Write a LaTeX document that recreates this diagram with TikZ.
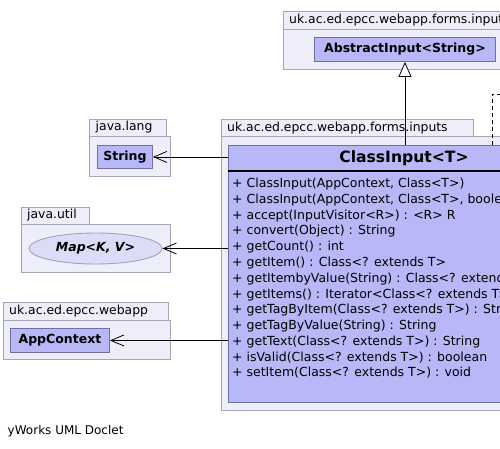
\documentclass[tikz,border=0pt]{standalone}
\usepackage{fontspec}
\setmainfont{DejaVu Sans}
\usetikzlibrary{arrows.meta,shapes.geometric}
\definecolor{pkgfill}{RGB}{238,238,250}
\definecolor{pkgdraw}{RGB}{166,166,184}
\definecolor{clsfill}{RGB}{184,184,248}
\definecolor{clsdraw}{RGB}{112,112,160}
\definecolor{elfill}{RGB}{220,220,248}
\definecolor{eldraw}{RGB}{160,160,192}
\tikzset{
  pkgbox/.style={draw=pkgdraw,fill=pkgfill,line width=0.9pt,inner sep=0pt,anchor=north west},
  pkglabel/.style={inner sep=0pt,anchor=west,font=\fontsize{12.4}{14}\selectfont},
  clsbox/.style={draw=clsdraw,fill=clsfill,line width=0.9pt,inner sep=0pt},
  clsname/.style={inner sep=0pt,font=\fontsize{12.5}{14}\selectfont\bfseries},
  meth/.style={inner sep=0pt,anchor=base west,font=\fontsize{12.5}{14}\selectfont},
  dep/.style={line width=0.9pt,-{Straight Barb[length=13pt,width=11pt,line width=0.8pt]}},
  inh/.style={line width=0.9pt,-{Triangle[open,length=15pt,width=13pt,line width=0.8pt,fill=white]}},
}
\begin{document}
\begin{tikzpicture}[x=1pt,y=-1pt]
\useasboundingbox (0,0) rectangle (500,448);
\clip (0,0) rectangle (500,448);
\fill[white] (0,0) rectangle (500,448);

% top package
\node[pkgbox,minimum width=260pt,minimum height=18pt] (pTt) at (283,11) {};
\node[pkgbox,minimum width=260pt,minimum height=40pt] (pTb) at (283,29) {};
\node[pkglabel] (pTl) at (289,20.5) {uk.ac.ed.epcc.webapp.forms.inputs};
\node[clsbox,minimum width=181pt,minimum height=24pt,anchor=north west] (AI) at (314,37) {};
\node[clsname] (AIl) at (AI.center) {AbstractInput<String>};

% middle package
\node[pkgbox,minimum width=252pt,minimum height=17pt] (pMt) at (221,119) {};
\node[pkgbox,minimum width=360pt,minimum height=274pt] (pMb) at (221,136) {};
\node[pkglabel] (pMl) at (227,128) {uk.ac.ed.epcc.webapp.forms.inputs};
\node[clsbox,minimum width=352pt,minimum height=257pt,anchor=north west] (CI) at (228,145) {};
\coordinate (hL) at (228,171);
\coordinate (hR) at (580,171);
\draw[line width=2pt,black] (hL) -- (hR);
\node[clsname,font=\fontsize{15.6}{18}\selectfont\bfseries] (CIl) at (404,158.5) {ClassInput<T>};
\foreach \t [count=\i] in {
  {+ ClassInput(AppContext, Class<T>)},
  {+ ClassInput(AppContext, Class<T>, boolean)},
  {+ accept(InputVisitor<R>) : <R> R},
  {+ convert(Object) : String},
  {+ getCount() : int},
  {+ getItem() : Class<? extends T>},
  {+ getItembyValue(String) : Class<? extends T>},
  {+ getItems() : Iterator<Class<? extends T>>},
  {+ getTagByItem(Class<? extends T>) : String},
  {+ getTagByValue(String) : String},
  {+ getText(Class<? extends T>) : String},
  {+ isValid(Class<? extends T>) : boolean},
  {+ setItem(Class<? extends T>) : void}}
  \node[meth] (m\i) at (232,{187.6+15.78*(\i-1)}) {\t};

% java.lang
\node[pkgbox,minimum width=77pt,minimum height=17pt] (pLt) at (89,119) {};
\node[pkgbox,minimum width=81pt,minimum height=40pt] (pLb) at (89,136) {};
\node[pkglabel] (pLl) at (95.5,127.5) {java.lang};
\node[clsbox,minimum width=55pt,minimum height=23pt,anchor=north west] (S) at (97,145) {};
\node[clsname] (Sl) at (S.center) {String};

% java.util
\node[pkgbox,minimum width=68pt,minimum height=17pt] (pUt) at (21,207) {};
\node[pkgbox,minimum width=149pt,minimum height=48pt] (pUb) at (21,224) {};
\node[pkglabel] (pUl) at (27,215.5) {java.util};
\node[ellipse,draw=eldraw,fill=elfill,line width=0.9pt,minimum width=133pt,minimum height=31pt,inner sep=0pt] (M) at (95.5,248.5) {};
\node[clsname,font=\fontsize{12.5}{14}\selectfont\bfseries\itshape] (Ml) at (M.center) {Map<K, V>};

% uk.ac.ed.epcc.webapp
\node[pkgbox,minimum width=165pt,minimum height=18pt] (pWt) at (3,302) {};
\node[pkgbox,minimum width=167pt,minimum height=39pt] (pWb) at (3,320) {};
\node[pkglabel] (pWl) at (9,311) {uk.ac.ed.epcc.webapp};
\node[clsbox,minimum width=99pt,minimum height=24pt,anchor=north west] (AC) at (10,328) {};
\node[clsname] (ACl) at (AC.center) {AppContext};

% connectors
\draw[inh] (CI.north -| AI.south) -- (AI.south);
\coordinate (off) at (560,94);
\draw[line width=0.9pt,dashed,dash pattern=on 4pt off 3pt] (CI.north -| 492,0) |- (off);
\draw[dep] (S.east -| CI.west) -- (S.east);
\draw[dep] (M.east -| CI.west) -- (M.east);
\draw[dep] (AC.east -| CI.west) -- (AC.east);

\node[pkglabel,font=\fontsize{12}{14}\selectfont] (foot) at (7.5,431) {yWorks UML Doclet};
\end{tikzpicture}
\end{document}
